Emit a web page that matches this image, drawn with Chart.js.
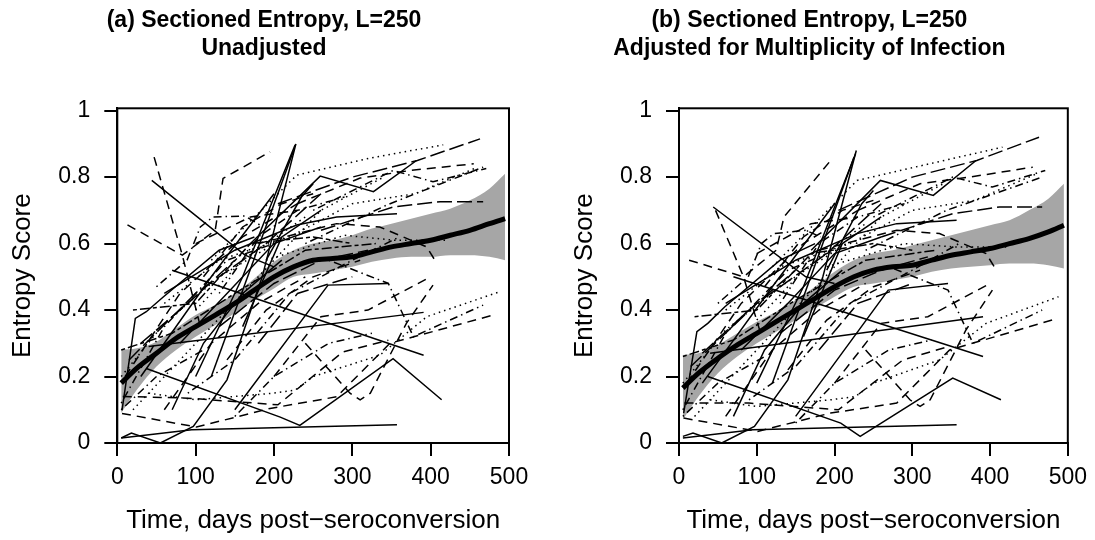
<!DOCTYPE html>
<html>
<head>
<meta charset="utf-8">
<script src="https://cdn.jsdelivr.net/npm/chart.js@4.4.1/dist/chart.umd.min.js"></script>
<style>
  body { margin: 0; background: #fff; }
  #wrap { position: relative; width: 1095px; height: 540px; }
  canvas { position: absolute; top: 0; }
</style>
</head>
<body>
<div id="wrap">
  <canvas id="chartA" width="548" height="540" style="left:0"></canvas>
  <canvas id="chartB" width="547" height="540" style="left:548px"></canvas>
</div>
<script>
// axis ticks
const ticksX = [0, 100, 200, 300, 400, 500];
const ticksY = [0, 0.2, 0.4, 0.6, 0.8, 1];

// smoothed mean and its band
const fitTime = [5, 25, 50, 75, 100, 125, 150, 175, 200, 225, 250, 275, 300, 325, 350, 375, 400, 425, 450, 475, 495];
const fitA   = [0.18, 0.225, 0.27, 0.315, 0.35, 0.385, 0.42, 0.46, 0.5, 0.53, 0.55, 0.555, 0.56, 0.575, 0.59, 0.6, 0.61, 0.625, 0.64, 0.66, 0.675];
const loA    = [0.09, 0.16, 0.23, 0.28, 0.32, 0.355, 0.39, 0.43, 0.465, 0.5, 0.51, 0.52, 0.53, 0.545, 0.555, 0.56, 0.56, 0.565, 0.565, 0.56, 0.55];
const hiA    = [0.28, 0.285, 0.305, 0.345, 0.385, 0.415, 0.45, 0.495, 0.545, 0.58, 0.6, 0.61, 0.625, 0.645, 0.66, 0.675, 0.69, 0.705, 0.73, 0.765, 0.81];
const fitB   = [0.165, 0.21, 0.255, 0.295, 0.33, 0.365, 0.4, 0.435, 0.47, 0.5, 0.52, 0.53, 0.535, 0.55, 0.565, 0.575, 0.585, 0.6, 0.615, 0.635, 0.655];
const loB    = [0.07, 0.14, 0.21, 0.26, 0.3, 0.335, 0.37, 0.405, 0.44, 0.47, 0.48, 0.49, 0.5, 0.515, 0.525, 0.53, 0.535, 0.54, 0.54, 0.535, 0.525];
const hiB    = [0.265, 0.27, 0.295, 0.33, 0.365, 0.395, 0.43, 0.47, 0.515, 0.55, 0.57, 0.58, 0.595, 0.61, 0.625, 0.64, 0.655, 0.67, 0.7, 0.735, 0.78];

// individual subjects: sample times, line type, scores per panel
const subjLty = ['solid', 'solid', 'solid', 'solid', 'solid', 'dashed', 'dashed', 'dotdash', 'longdash', 'dotted',
  'solid', 'dotdash', 'dashed', 'dotdash', 'longdash', 'dotted', 'dashed', 'solid', 'solid', 'dotdash',
  'dashed', 'dotted', 'dashed', 'solid', 'solid', 'solid', 'dashed', 'dotdash', 'dashed', 'dotted',
  'solid', 'longdash', 'solid', 'twodash', 'dashed', 'dotdash', 'dotted', 'longdash', 'solid', 'dashed',
  'dotdash', 'twodash', 'dotted', 'dashed', 'solid', 'dotdash', 'longdash', 'dashed', 'dotdash', 'solid',
  'dotted', 'longdash', 'dashed', 'solid'];

const subjTimes = [
  [5, 95, 357], [5, 18, 55, 97, 140, 185, 228], [37, 208, 233, 352, 414], [6, 23, 37, 59, 130, 175], [44, 163, 200],
  [47, 83, 105], [13, 83, 125, 135, 195], [50, 89, 106, 122, 163, 182], [205, 300, 383, 463], [120, 229, 322, 416],
  [170, 259, 327, 382], [250, 352, 403, 471], [230, 310, 374, 455], [240, 344, 467], [260, 352, 412, 467],
  [190, 290, 354, 422], [180, 280, 335, 395, 408], [60, 150, 229, 280, 357], [100, 160, 195, 227], [270, 346, 378, 467],
  [240, 297, 310, 323, 369, 403], [40, 100, 195, 227, 250, 335, 395, 488], [6, 101, 195, 280, 348, 480], [40, 391], [70, 391],
  [150, 269, 346], [7, 90, 205, 288, 346], [5, 60, 140, 200], [10, 80, 160, 230], [20, 100, 180, 260, 340],
  [30, 120, 200], [15, 100, 190, 260], [120, 225], [5, 70, 150, 240, 330], [60, 120, 180, 240],
  [90, 150, 220, 300, 360], [5, 60, 130, 215], [130, 200, 260, 320], [70, 110, 160, 210], [200, 260, 320, 400],
  [150, 200, 270, 325], [20, 100, 170, 250, 300], [60, 130, 220, 300, 380, 460], [100, 170, 230], [190, 235, 250],
  [5, 50, 110], [180, 230, 300], [110, 160, 210, 250], [130, 180, 230, 290], [80, 140, 200, 260],
  [100, 160, 240], [30, 90, 150], [140, 190, 250, 310], [160, 210, 260]
];

const scoresA = [
  [0.015, 0.04, 0.055], [0.015, 0.03, 0.0, 0.05, 0.19, 0.5, 0.9], [0.224, 0.078, 0.053, 0.254, 0.13], [0.098, 0.375, 0.395, 0.44, 0.58, 0.62], [0.79, 0.565, 0.53],
  [0.86, 0.565, 0.36], [0.656, 0.565, 0.64, 0.796, 0.876], [0.47, 0.55, 0.65, 0.68, 0.683, 0.656], [0.72, 0.8, 0.85, 0.915], [0.55, 0.806, 0.857, 0.897],
  [0.6, 0.803, 0.756, 0.85], [0.7, 0.82, 0.786, 0.826], [0.72, 0.797, 0.82, 0.84], [0.6, 0.716, 0.83], [0.64, 0.71, 0.726, 0.726],
  [0.55, 0.625, 0.61, 0.61], [0.6, 0.66, 0.65, 0.59, 0.54], [0.45, 0.58, 0.656, 0.68, 0.69], [0.2, 0.5, 0.71, 0.897], [0.55, 0.48, 0.32, 0.415],
  [0.3, 0.15, 0.13, 0.15, 0.36, 0.475], [0.15, 0.13, 0.149, 0.159, 0.2, 0.264, 0.38, 0.455], [0.089, 0.048, 0.104, 0.139, 0.3, 0.385], [0.29, 0.393], [0.52, 0.264],
  [0.1, 0.475, 0.48], [0.14, 0.135, 0.115, 0.274, 0.309], [0.12, 0.35, 0.55, 0.6], [0.2, 0.45, 0.62, 0.72], [0.1, 0.3, 0.5, 0.7, 0.8],
  [0.2, 0.5, 0.75], [0.25, 0.45, 0.6, 0.75], [0.2, 0.88], [0.28, 0.33, 0.45, 0.58, 0.6], [0.1, 0.3, 0.42, 0.5],
  [0.15, 0.25, 0.45, 0.55, 0.62], [0.2, 0.36, 0.5, 0.62], [0.35, 0.48, 0.55, 0.58], [0.1, 0.3, 0.45, 0.55], [0.2, 0.38, 0.4, 0.5],
  [0.08, 0.2, 0.3, 0.33], [0.4, 0.42, 0.6, 0.62, 0.6], [0.42, 0.55, 0.62, 0.72, 0.75, 0.83], [0.6, 0.68, 0.7], [0.55, 0.74, 0.78],
  [0.1, 0.2, 0.28], [0.3, 0.45, 0.5], [0.5, 0.65, 0.72, 0.75], [0.45, 0.62, 0.7, 0.74], [0.3, 0.45, 0.6, 0.65],
  [0.4, 0.55, 0.68], [0.3, 0.42, 0.55], [0.25, 0.4, 0.5, 0.55], [0.35, 0.62, 0.7]
];

const scoresB = [
  [0.015, 0.04, 0.055], [0.02, 0.03, 0.0, 0.05, 0.19, 0.5, 0.88], [0.2, 0.06, 0.02, 0.195, 0.13], [0.09, 0.335, 0.36, 0.41, 0.55, 0.6], [0.71, 0.5, 0.48],
  [0.7, 0.5, 0.33], [0.55, 0.5, 0.58, 0.68, 0.85], [0.42, 0.5, 0.6, 0.63, 0.64, 0.62], [0.7, 0.8, 0.85, 0.92], [0.53, 0.79, 0.84, 0.89],
  [0.58, 0.79, 0.745, 0.85], [0.68, 0.8, 0.77, 0.82], [0.7, 0.78, 0.8, 0.83], [0.58, 0.7, 0.8], [0.62, 0.69, 0.71, 0.71],
  [0.53, 0.6, 0.59, 0.59], [0.58, 0.64, 0.63, 0.57, 0.52], [0.42, 0.55, 0.63, 0.66, 0.67], [0.18, 0.47, 0.68, 0.87], [0.53, 0.46, 0.3, 0.4],
  [0.28, 0.13, 0.11, 0.13, 0.34, 0.46], [0.13, 0.11, 0.13, 0.14, 0.18, 0.25, 0.36, 0.44], [0.075, 0.035, 0.09, 0.12, 0.28, 0.37], [0.27, 0.38], [0.5, 0.26],
  [0.08, 0.46, 0.48], [0.12, 0.12, 0.1, 0.25, 0.29], [0.1, 0.33, 0.52, 0.58], [0.18, 0.42, 0.6, 0.7], [0.08, 0.28, 0.48, 0.68, 0.78],
  [0.18, 0.47, 0.72], [0.23, 0.42, 0.57, 0.72], [0.18, 0.86], [0.26, 0.31, 0.43, 0.55, 0.58], [0.08, 0.28, 0.4, 0.48],
  [0.13, 0.23, 0.42, 0.52, 0.6], [0.18, 0.34, 0.47, 0.6], [0.33, 0.46, 0.52, 0.56], [0.08, 0.28, 0.42, 0.52], [0.18, 0.36, 0.38, 0.48],
  [0.06, 0.18, 0.28, 0.31], [0.38, 0.4, 0.57, 0.6, 0.58], [0.4, 0.53, 0.6, 0.7, 0.73, 0.81], [0.57, 0.66, 0.68], [0.52, 0.72, 0.76],
  [0.08, 0.18, 0.26], [0.28, 0.42, 0.48], [0.47, 0.62, 0.7, 0.73], [0.42, 0.6, 0.68, 0.72], [0.28, 0.42, 0.57, 0.62],
  [0.37, 0.52, 0.66], [0.27, 0.4, 0.52], [0.22, 0.37, 0.47, 0.52], [0.32, 0.6, 0.68]
];

const dashes = {
  solid: [], dashed: [9, 6], dotted: [1.5, 4], dotdash: [1.5, 4, 8, 4],
  longdash: [15, 5], twodash: [4, 3, 10, 3]
};

const FONT = 'Liberation Sans, Arial, Helvetica, sans-serif';

// full box round the plot area
const boxPlugin = {
  id: 'box',
  afterDatasetsDraw(chart) {
    const a = chart.chartArea, ctx = chart.ctx;
    ctx.save();
    ctx.strokeStyle = '#000';
    ctx.lineWidth = 2;
    ctx.strokeRect(a.left, a.top, a.right - a.left, a.bottom - a.top);
    ctx.restore();
  }
};

function makeChart(id, title, fit, lo, hi, scores, padLeft, leftW, rightPad, yTitlePad) {
  const datasets = [];
  datasets.push({
    data: fitTime.map((t, i) => ({x: t, y: lo[i]})),
    borderWidth: 0, borderColor: 'rgba(0,0,0,0)', pointRadius: 0, fill: false,
    tension: 0.4, cubicInterpolationMode: 'monotone', order: 3
  });
  datasets.push({
    data: fitTime.map((t, i) => ({x: t, y: hi[i]})),
    borderWidth: 0, borderColor: 'rgba(0,0,0,0)', pointRadius: 0, fill: '-1',
    backgroundColor: '#a6a6a6', tension: 0.4, cubicInterpolationMode: 'monotone', order: 3
  });
  subjTimes.forEach((times, k) => {
    datasets.push({
      data: times.map((t, i) => ({x: t, y: scores[k][i]})),
      borderColor: '#000', borderWidth: 1.5, borderDash: dashes[subjLty[k]],
      pointRadius: 0, fill: false, tension: 0, order: 2
    });
  });
  datasets.push({
    data: fitTime.map((t, i) => ({x: t, y: fit[i]})),
    borderColor: '#000', borderWidth: 5, pointRadius: 0, fill: false,
    tension: 0.4, cubicInterpolationMode: 'monotone', order: 1
  });

  const axisCommon = {
    type: 'linear',
    grid: {display: true, drawOnChartArea: false, drawTicks: true, tickLength: 13, color: '#000', lineWidth: 2},
    border: {display: true, color: '#000', width: 2},
    ticks: {color: '#000', font: {family: FONT, size: 23}, maxRotation: 0, autoSkip: false, callback: v => String(v)}
  };

  return new Chart(document.getElementById(id), {
    type: 'scatter',
    data: {datasets},
    options: {
      responsive: false,
      animation: false,
      showLine: true,
      layout: {padding: {left: padLeft, right: rightPad, top: 0, bottom: 0}},
      plugins: {
        legend: {display: false},
        tooltip: {enabled: false},
        title: {
          display: true, text: title, color: '#000',
          font: {family: FONT, size: 23, weight: 'bold', lineHeight: 1.2},
          padding: {top: 7, bottom: 46.1}
        }
      },
      scales: {
        x: Object.assign({}, axisCommon, {
          min: 0, max: 500,
          ticks: Object.assign({}, axisCommon.ticks, {padding: 8}),
          afterBuildTicks: s => { s.ticks = ticksX.map(v => ({value: v})); },
          afterFit: s => { s.height = 97; },
          title: {display: true, text: 'Time, days post\u2212seroconversion', color: '#000',
                  font: {family: FONT, size: 26}, padding: {top: 0, bottom: 3.4}}
        }),
        y: Object.assign({}, axisCommon, {
          min: 0, max: 1.007,
          ticks: Object.assign({}, axisCommon.ticks, {padding: 14}),
          afterBuildTicks: s => { s.ticks = ticksY.map(v => ({value: v})); },
          afterFit: s => { s.width = leftW; },
          title: {display: true, text: 'Entropy Score', color: '#000',
                  font: {family: FONT, size: 26}, padding: {top: yTitlePad, bottom: 0}}
        })
      }
    },
    plugins: [boxPlugin]
  });
}

makeChart('chartA', ['(a) Sectioned Entropy, L=250', 'Unadjusted'], fitA, loA, hiA, scoresA, 19, 98.3, 39, -11.6);
makeChart('chartB', ['(b) Sectioned Entropy, L=250', 'Adjusted for Multiplicity of Infection'], fitB, loB, hiB, scoresB, 0, 131, 24.3, 21.4);
</script>
</body>
</html>
